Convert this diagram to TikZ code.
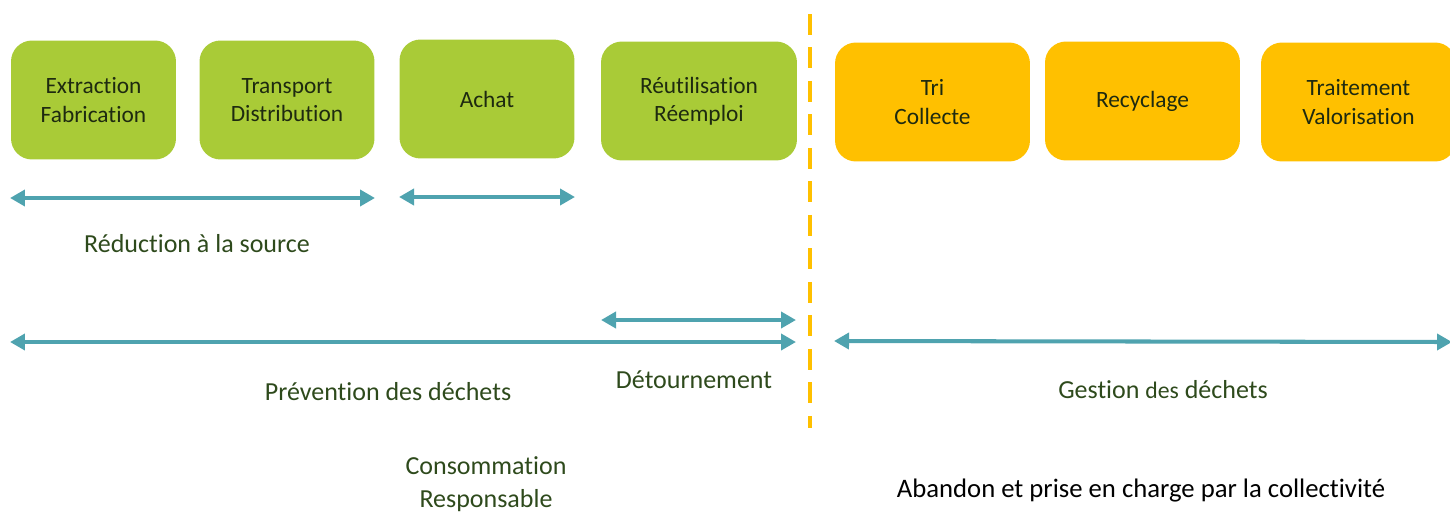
\documentclass[tikz,border=0pt]{standalone}
\usepackage{fontspec}
\setmainfont{Carlito}[RawFeature={-liga,-dlig,-clig}]
\usetikzlibrary{arrows.meta}
\definecolor{boxgreen}{HTML}{A9CB37}
\definecolor{boxorange}{HTML}{FFC000}
\definecolor{teal}{HTML}{4FA3AF}
\definecolor{txtgreen}{HTML}{2E4A1C}
\definecolor{txtdark}{HTML}{1E2A10}
\begin{document}
\begin{tikzpicture}[x=0.02cm,y=-0.02cm,
  stage/.style={rounded corners=0.42cm, minimum width=3.5cm, minimum height=2.38cm,
    inner sep=0pt, align=center, text=txtdark, font=\fontsize{13.3}{16.2}\selectfont},
  gstage/.style={stage, fill=boxgreen},
  ostage/.style={stage, fill=boxorange},
  span/.style={draw=teal, line width=2.3pt, {Triangle[length=0.3cm,width=0.32cm]}-{Triangle[length=0.3cm,width=0.32cm]}},
  lab/.style={text=txtgreen, align=center, inner sep=0pt, font=\fontsize{14.8}{18.5}\selectfont},
  divider/.style={draw=boxorange, line width=1.8pt, dash pattern=on 0.42cm off 0.25cm}]
\useasboundingbox (0,0) rectangle (1450,511);
\clip (0,0) rectangle (1450,511);
% boxes
\node[gstage, minimum width=3.3cm] (ext) at (93.5,100) {Extraction\\Fabrication};
\node[gstage] (tra) at (287,100) {Transport\\Distribution};
\node[gstage] (ach) at (487,99) {Achat};
\node[gstage, minimum width=3.92cm] (reu) at (699,101) {Réutilisation\\Réemploi};
\node[ostage, minimum width=3.9cm] (tri) at (932.5,102) {Tri\\Collecte};
\node[ostage, minimum width=3.9cm] (rec) at (1142.5,101) {Recyclage};
\node[ostage, minimum width=3.9cm] (trt) at (1358.5,102) {Traitement\\Valorisation};
% divider
\coordinate (d1) at (810,14);
\coordinate (d2) at (810,428);
\draw[divider] (d1) -- (d2);
% arrows
\coordinate (r1) at (10,198); \coordinate (r2) at (375,198);
\coordinate (a1) at (399,197); \coordinate (a2) at (575,197);
\coordinate (t1) at (601,320); \coordinate (t2) at (796,320);
\coordinate (p1) at (10,342); \coordinate (p2) at (796,342);
\coordinate (g1) at (834,341); \coordinate (g2) at (1452,342);
\draw[span] (r1) -- (r2);
\draw[span] (a1) -- (a2);
\draw[span] (t1) -- (t2);
\draw[span] (p1) -- (p2);
\draw[span] (g1) -- (g2);
% labels
\node[lab] (red) at (197,244) {Réduction à la source};
\node[lab] (pre) at (388,392) {Prévention des déchets};
\node[lab] (det) at (694,380) {Détournement};
\node[lab] (ges) at (1163,390) {Gestion {\fontsize{13.5}{16}\selectfont des} déchets};
\node[lab] (con) at (486,484) {Consommation\\Responsable};
\node[lab, text=black, font=\fontsize{15.2}{18.5}\selectfont] (aba) at (1141,491) {Abandon et prise en charge par la collectivité};
\end{tikzpicture}
\end{document}
